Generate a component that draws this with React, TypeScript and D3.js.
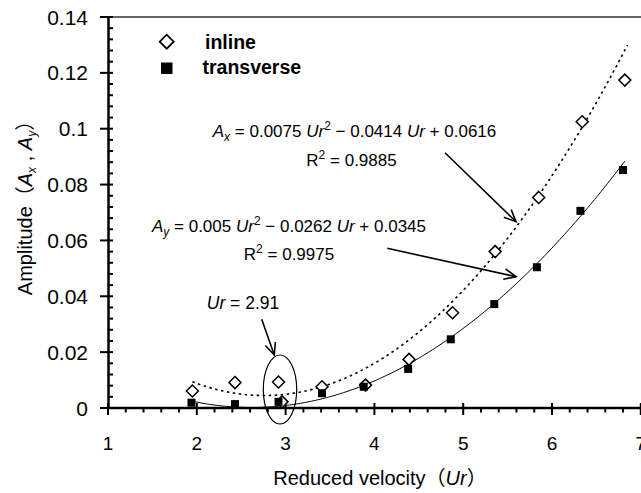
import React from "react";
import * as d3 from "d3";

// ---- data ----
const urInline = [1.95, 2.43, 2.92, 2.96, 3.41, 3.9, 4.39, 4.88, 5.36, 5.85, 6.34, 6.82];
const ampInline = [0.0061, 0.0091, 0.0093, 0.0022, 0.0076, 0.0082, 0.0174, 0.0341, 0.056, 0.0754, 0.1025, 0.1174];
const urTransverse = [1.94, 2.43, 2.92, 3.41, 3.88, 4.38, 4.86, 5.35, 5.83, 6.32, 6.8];
const ampTransverse = [0.0019, 0.0014, 0.0022, 0.0053, 0.0076, 0.014, 0.0246, 0.0372, 0.0504, 0.0706, 0.0852];
// trendline coefficients [c0, c1, c2] as printed on the chart
const coefInline = [0.0616, -0.0414, 0.0075];
const coefTransverse = [0.0345, -0.0262, 0.005];
const trendRangeInline = [1.95, 6.85];
const trendRangeTransverse = [1.95, 6.82];
const xTicks = [1, 2, 3, 4, 5, 6, 7];
const yTicks = [0, 0.02, 0.04, 0.06, 0.08, 0.1, 0.12, 0.14];
const yTickLabels = ["0", "0.02", "0.04", "0.06", "0.08", "0.1", "0.12", "0.14"];

const W = 641;
const H = 493;
const FONT = "'Liberation Sans', Arial, 'Noto Sans CJK JP', sans-serif";

const x = d3.scaleLinear().domain([1, 7]).range([108, 640.8]);
const y = d3.scaleLinear().domain([0, 0.14]).range([408, 17]);

const poly = (c: number[], u: number) => c[0] + c[1] * u + c[2] * u * u;
const trend = (c: number[], r: number[]) =>
  d3.range(r[0], r[1] + 1e-9, (r[1] - r[0]) / 200).map((u) => [u, poly(c, u)] as [number, number]);

const line = d3
  .line<[number, number]>()
  .x((d) => x(d[0]))
  .y((d) => y(d[1]))
  .curve(d3.curveLinear);

const diamond = (cx: number, cy: number, r: number) =>
  `M${cx},${cy - r}L${cx + r},${cy}L${cx},${cy + r}L${cx - r},${cy}Z`;

function Arrow({ x1, y1, x2, y2 }: { x1: number; y1: number; x2: number; y2: number }) {
  const a = Math.atan2(y2 - y1, x2 - x1);
  const L = 13;
  const s = 0.42;
  const p1 = [x2 - L * Math.cos(a - s), y2 - L * Math.sin(a - s)];
  const p2 = [x2 - L * Math.cos(a + s), y2 - L * Math.sin(a + s)];
  return (
    <g stroke="#000" strokeWidth={1.6} fill="none">
      <line x1={x1} y1={y1} x2={x2} y2={y2} />
      <polyline points={`${p1[0]},${p1[1]} ${x2},${y2} ${p2[0]},${p2[1]}`} />
    </g>
  );
}

export default function App() {
  const xMinor = d3.range(1, 7.0001, 0.2).filter((v) => Math.abs(v - Math.round(v)) > 1e-6);
  const yMinor = d3.range(0, 0.14001, 0.004).filter((v) => Math.abs(v / 0.02 - Math.round(v / 0.02)) > 1e-6);
  const sub = { fontSize: 12 };
  return (
    <svg
      width={W}
      height={H}
      style={{ position: "absolute", left: 0, top: 0, background: "#fff" }}
      fontFamily={FONT}
    >
      {/* top border */}
      <line x1={108} y1={17} x2={W} y2={17} stroke="#333" strokeWidth={1.5} />

      {/* y axis */}
      {yMinor.map((v) => (
        <line key={"ym" + v} x1={108} x2={113} y1={y(v)} y2={y(v)} stroke="#000" strokeWidth={2} />
      ))}
      {yTicks.map((v, i) => (
        <g key={"yt" + v}>
          <line x1={100} x2={113} y1={y(v)} y2={y(v)} stroke="#000" strokeWidth={2} />
          <text x={88} y={y(v)} dy="0.36em" textAnchor="end" fontSize={21} fill="#000">
            {yTickLabels[i]}
          </text>
        </g>
      ))}
      <line x1={108.5} x2={108.5} y1={17} y2={409} stroke="#000" strokeWidth={2.5} />

      {/* x axis */}
      {xMinor.map((v) => (
        <line key={"xm" + v} x1={x(v)} x2={x(v)} y1={408} y2={412.5} stroke="#000" strokeWidth={2} />
      ))}
      {xTicks.map((v) => (
        <g key={"xt" + v}>
          <line x1={x(v)} x2={x(v)} y1={403} y2={415} stroke="#000" strokeWidth={2} />
          <text x={x(v)} y={450} textAnchor="middle" fontSize={19} fill="#000">
            {v}
          </text>
        </g>
      ))}
      <line x1={107} x2={W} y1={408} y2={408} stroke="#000" strokeWidth={2.5} />

      {/* axis titles */}
      <text x={0} y={0} transform="translate(32,203) rotate(-90)" textAnchor="middle" fontSize={20} fill="#000">
        Amplitude（<tspan fontStyle="italic">A</tspan>
        <tspan fontStyle="italic" dy={4} {...sub}>x</tspan>
        <tspan dy={-4}> , </tspan>
        <tspan fontStyle="italic">A</tspan>
        <tspan fontStyle="italic" dy={4} {...sub}>y</tspan>
        <tspan dy={-4}>）</tspan>
      </text>
      <text x={380} y={485} textAnchor="middle" fontSize={20} fill="#000">
        Reduced velocity（<tspan fontStyle="italic">Ur</tspan>）
      </text>

      {/* trendlines */}
      <path d={line(trend(coefInline, trendRangeInline)) || ""} fill="none" stroke="#000" strokeWidth={1.6} strokeDasharray="2.5,3.5" />
      <path d={line(trend(coefTransverse, trendRangeTransverse)) || ""} fill="none" stroke="#000" strokeWidth={1} />

      {/* points */}
      {urInline.map((u, i) => (
        <path key={"di" + i} d={diamond(x(u), y(ampInline[i]), 6)} fill="#fff" stroke="#000" strokeWidth={1.5} />
      ))}
      {urTransverse.map((u, i) => (
        <rect key={"sq" + i} x={x(u) - 4} y={y(ampTransverse[i]) - 4} width={8} height={8} fill="#000" />
      ))}

      {/* legend */}
      <path d={diamond(166.7, 41.7, 7)} fill="#fff" stroke="#000" strokeWidth={1.8} />
      <text x={205} y={48.5} fontSize={19.5} fontWeight="bold" fill="#000">inline</text>
      <rect x={161} y={62.5} width={11.5} height={11.5} fill="#000" />
      <text x={202.5} y={74} fontSize={19.5} fontWeight="bold" fill="#000">transverse</text>

      {/* equations */}
      <text x={354.5} y={136.7} textAnchor="middle" fontSize={17} fill="#000">
        <tspan fontStyle="italic">A</tspan>
        <tspan fontStyle="italic" dy={4} {...sub}>x</tspan>
        <tspan dy={-4}> = 0.0075 </tspan>
        <tspan fontStyle="italic">Ur</tspan>
        <tspan dy={-7} {...sub}>2</tspan>
        <tspan dy={7}> − 0.0414 </tspan>
        <tspan fontStyle="italic">Ur</tspan>
        <tspan> + 0.0616</tspan>
      </text>
      <text x={351.5} y={166} textAnchor="middle" fontSize={17} fill="#000">
        R<tspan dy={-7} {...sub}>2</tspan>
        <tspan dy={7}> = 0.9885</tspan>
      </text>
      <text x={289} y={231.7} textAnchor="middle" fontSize={17} fill="#000">
        <tspan fontStyle="italic">A</tspan>
        <tspan fontStyle="italic" dy={4} {...sub}>y</tspan>
        <tspan dy={-4}> = 0.005 </tspan>
        <tspan fontStyle="italic">Ur</tspan>
        <tspan dy={-7} {...sub}>2</tspan>
        <tspan dy={7}> − 0.0262 </tspan>
        <tspan fontStyle="italic">Ur</tspan>
        <tspan> + 0.0345</tspan>
      </text>
      <text x={289} y={260} textAnchor="middle" fontSize={17} fill="#000">
        R<tspan dy={-7} {...sub}>2</tspan>
        <tspan dy={7}> = 0.9975</tspan>
      </text>
      <text x={243} y={309.3} textAnchor="middle" fontSize={17.5} fill="#000">
        <tspan fontStyle="italic">Ur</tspan> = 2.91
      </text>

      {/* annotations */}
      <Arrow x1={445} y1={152.7} x2={516} y2={221.7} />
      <Arrow x1={387.3} y1={248.3} x2={516} y2={276.7} />
      <Arrow x1={261.7} y1={319.3} x2={274.3} y2={355} />
      <ellipse cx={280} cy={389.5} rx={16.7} ry={34.5} fill="none" stroke="#000" strokeWidth={1.2} />
    </svg>
  );
}
